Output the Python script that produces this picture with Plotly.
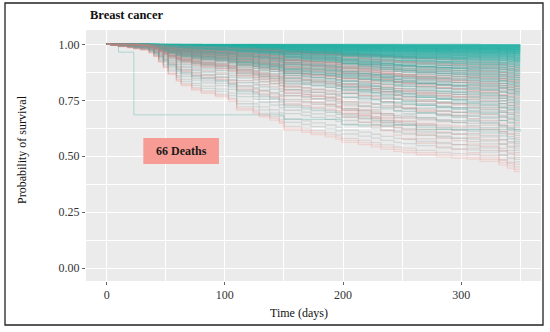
import math
import plotly.graph_objects as go

# ---------------- data ----------------
event_times = [4, 10, 18, 23, 29, 36, 40, 44, 48, 52, 59, 63, 72, 80, 92, 103, 110,
               124, 129, 138, 146, 150, 165, 173, 185, 194, 199, 213, 224, 232, 243,
               250, 262, 279, 292, 305, 316, 332, 339, 345]
end_time = 350

# lowest (early-dropping) curve shape
base_a = [0.995, 0.99, 0.985, 0.98, 0.975, 0.962, 0.945, 0.92, 0.895, 0.865, 0.835, 0.815,
          0.795, 0.78, 0.765, 0.745, 0.705, 0.69, 0.675, 0.66, 0.645, 0.615, 0.605, 0.595,
          0.585, 0.575, 0.56, 0.55, 0.54, 0.53, 0.52, 0.515, 0.505, 0.495, 0.49, 0.485,
          0.475, 0.46, 0.445, 0.43]
# late-dropping curve shape
base_b = [1.0, 1.0, 0.999, 0.998, 0.996, 0.99, 0.982, 0.97, 0.958, 0.945, 0.935, 0.928,
          0.918, 0.908, 0.9, 0.89, 0.87, 0.86, 0.85, 0.84, 0.83, 0.79, 0.775, 0.765, 0.755,
          0.745, 0.7, 0.68, 0.665, 0.645, 0.625, 0.61, 0.59, 0.575, 0.565, 0.55, 0.54,
          0.52, 0.51, 0.5]

# dense teal band at the top (final survival)
band_end = [0.999, 0.997, 0.996, 0.994, 0.993, 0.991, 0.99, 0.988, 0.986, 0.985, 0.983,
            0.981, 0.98, 0.978, 0.976, 0.975, 0.973, 0.971, 0.969, 0.967, 0.966, 0.963,
            0.961, 0.96, 0.957, 0.955, 0.952, 0.95, 0.947, 0.944, 0.942, 0.939, 0.936,
            0.933, 0.93, 0.927]
band_color = [1.0, 0.98, 1.0, 0.97, 1.0, 0.99, 0.96, 1.0, 0.98, 0.97, 1.0, 0.95, 0.99,
              0.97, 1.0, 0.96, 0.98, 0.95, 0.99, 0.97, 0.94, 0.98, 0.96, 0.93, 0.97, 0.95,
              0.92, 0.96, 0.9, 0.94, 0.92, 0.88, 0.93, 0.9, 0.87, 0.9]

# spread curves (final survival, colour 0=salmon..1=teal, shape A/B)
mixed_end = [0.924, 0.921, 0.917, 0.914, 0.909, 0.906, 0.903, 0.898, 0.896, 0.891, 0.887,
             0.884, 0.879, 0.876, 0.871, 0.868, 0.863, 0.86, 0.854, 0.851, 0.846, 0.842,
             0.838, 0.833, 0.829, 0.825, 0.819, 0.815, 0.811, 0.805, 0.801, 0.796, 0.79,
             0.786, 0.781, 0.775, 0.77, 0.764, 0.759, 0.752, 0.747, 0.741, 0.735, 0.729,
             0.722, 0.716, 0.71, 0.703, 0.696, 0.689, 0.682, 0.675, 0.667, 0.66, 0.652,
             0.644, 0.636, 0.627, 0.619, 0.611, 0.602, 0.593, 0.584, 0.575, 0.565, 0.556,
             0.546, 0.536, 0.526, 0.516, 0.505, 0.495, 0.486, 0.475, 0.464, 0.453, 0.442,
             0.432]
mixed_color = [0.9, 0.75, 0.85, 0.6, 0.95, 0.8, 0.5, 0.9, 0.7, 0.3, 0.85, 0.6, 0.78, 0.5,
               0.92, 0.65, 0.25, 0.8, 0.55, 0.7, 0.45, 0.88, 0.6, 0.2, 0.75, 0.5, 0.82,
               0.4, 0.65, 0.15, 0.7, 0.55, 0.85, 0.3, 0.6, 0.75, 0.5, 0.1, 0.68, 0.55, 0.8,
               0.35, 0.6, 0.5, 0.2, 0.72, 0.55, 0.85, 0.4, 0.6, 0.25, 0.7, 0.5, 0.8, 0.3,
               0.55, 0.65, 0.2, 0.75, 0.5, 0.35, 0.6, 0.15, 0.55, 0.7, 0.3, 0.5, 0.2, 0.6,
               0.4, 0.15, 0.5, 0.3, 0.55, 0.1, 0.35, 0.05, 0.0]
mixed_shape = ['B', 'A', 'B', 'B', 'A', 'B', 'A', 'B', 'A', 'B', 'A', 'B', 'A', 'A', 'B',
               'B', 'A', 'B', 'A', 'B', 'A', 'B', 'B', 'A', 'B', 'A', 'A', 'B', 'A', 'B',
               'A', 'B', 'A', 'A', 'B', 'B', 'A', 'B', 'B', 'A', 'B', 'A', 'B', 'A', 'B',
               'A', 'B', 'B', 'A', 'B', 'B', 'A', 'B', 'B', 'A', 'B', 'A', 'B', 'B', 'A',
               'A', 'B', 'A', 'A', 'A', 'B', 'A', 'B', 'A', 'B', 'B', 'A', 'B', 'A', 'B',
               'A', 'A', 'A']

# one early outlier curve
outlier_t = [0, 10, 23, 150, 199, 262, 350]
outlier_s = [1.0, 0.965, 0.685, 0.665, 0.64, 0.62, 0.61]

x_ticks = [0, 100, 200, 300]
y_ticks = [0.0, 0.25, 0.5, 0.75, 1.0]
y_tick_text = ["0.00", "0.25", "0.50", "0.75", "1.00"]

title_text = "Breast cancer"
x_title = "Time (days)"
y_title = "Probability of survival"
label_text = "66 Deaths"

# ---------------- styles ----------------
W, H = 550, 332
ML, MR, MT, MB = 86, 9, 30, 51
PW, PH = W - ML - MR, H - MT - MB
FONT = "Liberation Serif, Times New Roman, serif"
SALMON = (246, 120, 112)
GREY = (135, 148, 148)
TEAL = (30, 176, 164)


def mix(c, alpha):
    if c < 0.5:
        f = c / 0.5
        a, b = SALMON, GREY
    else:
        f = (c - 0.5) / 0.5
        a, b = GREY, TEAL
    r = [round(a[i] + (b[i] - a[i]) * f) for i in range(3)]
    return f"rgba({r[0]},{r[1]},{r[2]},{alpha:.3f})"


def curve(final, shape):
    base = base_a if shape == 'A' else base_b
    k = math.log(final) / math.log(base[-1])
    xs = [0] + event_times + [end_time]
    ys = [1.0] + [b ** k for b in base] + [base[-1] ** k]
    return xs, ys


fig = go.Figure()
for e, c in zip(band_end, band_color):
    xs, ys = curve(e, 'A')
    fig.add_trace(go.Scatter(x=xs, y=ys, mode="lines", line=dict(shape="hv", width=1.3, color=mix(c, 0.5)),
                             showlegend=False, hoverinfo="skip"))
fig.add_trace(go.Scatter(x=outlier_t, y=outlier_s, mode="lines",
                         line=dict(shape="hv", width=1, color=mix(0.85, 0.35)),
                         showlegend=False, hoverinfo="skip"))
for e, c, s in zip(mixed_end, mixed_color, mixed_shape):
    xs, ys = curve(e, s)
    alpha = 0.2 + 0.3 * (e - 0.43) / 0.5
    fig.add_trace(go.Scatter(x=xs, y=ys, mode="lines", line=dict(shape="hv", width=1.3, color=mix(c, alpha)),
                             showlegend=False, hoverinfo="skip"))


def px_x(p):
    return (p - ML) / PW


def px_y(p):
    return (H - MB - p) / PH


fig.add_shape(type="rect", xref="x", yref="y", x0=31, x1=95, y0=0.466, y1=0.582,
              fillcolor="rgb(246,156,148)", line=dict(width=0), layer="above")
fig.add_annotation(x=63, y=0.524, xref="x", yref="y", text=f"<b>{label_text}</b>", showarrow=False,
                   font=dict(family=FONT, size=12, color="#1a1a1a"))

fig.add_annotation(x=px_x(88), y=px_y(15), xref="paper", yref="paper", text=f"<b>{title_text}</b>",
                   showarrow=False, xanchor="left", yanchor="middle",
                   font=dict(family=FONT, size=12.5, color="#111"))
fig.add_annotation(x=px_x(299), y=px_y(312.5), xref="paper", yref="paper", text=x_title,
                   showarrow=False, xanchor="center", yanchor="middle",
                   font=dict(family=FONT, size=12, color="#111"))
fig.add_annotation(x=px_x(22), y=px_y(150), xref="paper", yref="paper", text=y_title,
                   showarrow=False, textangle=-90, xanchor="center", yanchor="middle",
                   font=dict(family=FONT, size=12, color="#111"))

# outer frame
fig.add_shape(type="rect", xref="paper", yref="paper", x0=px_x(5), x1=px_x(543),
              y0=px_y(325), y1=px_y(3), line=dict(color="#222", width=1.3), fillcolor="rgba(0,0,0,0)")

fig.update_layout(
    width=W, height=H, margin=dict(l=ML, r=MR, t=MT, b=MB),
    paper_bgcolor="white", plot_bgcolor="#EBEBEB",
    font=dict(family=FONT, size=12, color="#333"),
    xaxis=dict(range=[-17.5, 367.5], tickvals=x_ticks, showgrid=True, gridcolor="white", gridwidth=1.1,
               zeroline=False, ticks="outside", ticklen=3, tickcolor="#666",
               tickfont=dict(family=FONT, size=12, color="#333"),
               minor=dict(dtick=50, tick0=0, showgrid=True, gridcolor="white", gridwidth=0.5, ticks="")),
    yaxis=dict(range=[-0.057, 1.064], tickvals=y_ticks, ticktext=y_tick_text, showgrid=True,
               gridcolor="white", gridwidth=1.1, zeroline=False, ticks="outside", ticklen=3,
               tickcolor="#666", tickfont=dict(family=FONT, size=12, color="#333"),
               minor=dict(dtick=0.125, tick0=0, showgrid=True, gridcolor="white", gridwidth=0.5, ticks="")),
)

fig.write_html("out.html", config={"displayModeBar": False},
               post_script="document.body.style.margin='0';document.body.style.padding='0';")
